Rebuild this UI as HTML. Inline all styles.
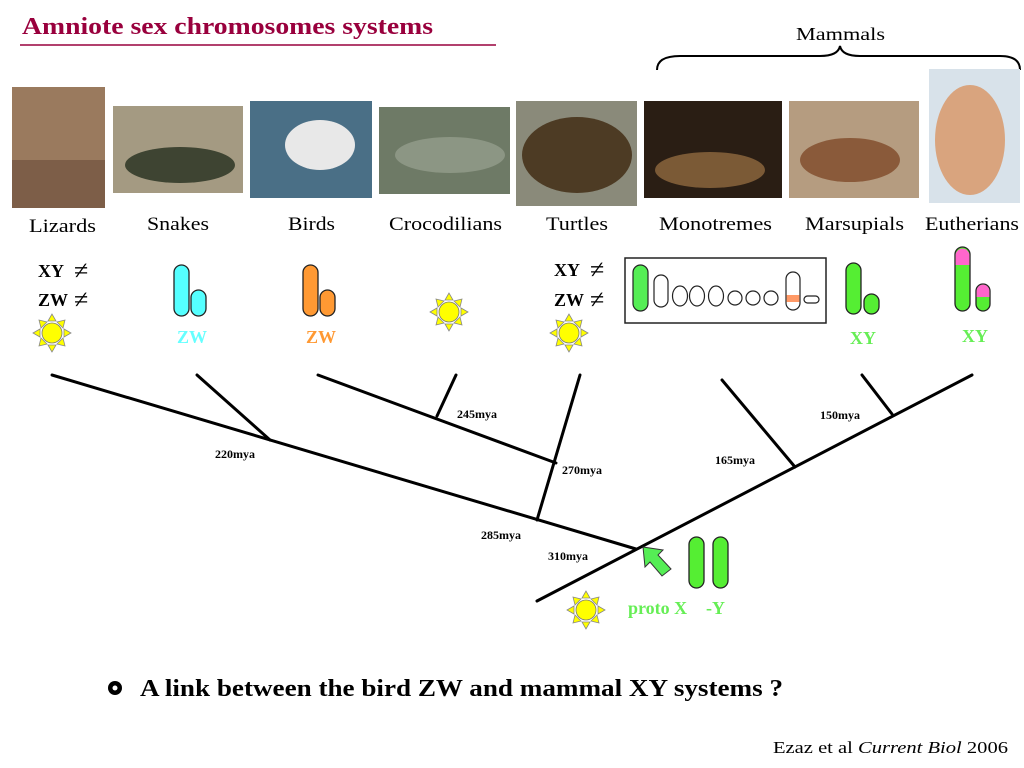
<!DOCTYPE html>
<html><head><meta charset="utf-8"><style>
body{margin:0;background:#fff;}
svg{display:block;font-family:"Liberation Serif",serif;}
</style></head><body>
<svg width="1024" height="768" viewBox="0 0 1024 768" xmlns="http://www.w3.org/2000/svg">
<defs>
<g id="sun">
<polygon points="0,-19 -4,-12 4,-12" fill="#ff0" stroke="#888" stroke-width="0.8"/>
<polygon points="0,19 -4,12 4,12" fill="#ff0" stroke="#888" stroke-width="0.8"/>
<polygon points="-19,0 -12,-4 -12,4" fill="#ff0" stroke="#888" stroke-width="0.8"/>
<polygon points="19,0 12,-4 12,4" fill="#ff0" stroke="#888" stroke-width="0.8"/>
<polygon points="-13,-13 -11,-5 -5,-11" fill="#ff0" stroke="#888" stroke-width="0.8"/>
<polygon points="13,-13 11,-5 5,-11" fill="#ff0" stroke="#888" stroke-width="0.8"/>
<polygon points="-13,13 -11,5 -5,11" fill="#ff0" stroke="#888" stroke-width="0.8"/>
<polygon points="13,13 11,5 5,11" fill="#ff0" stroke="#888" stroke-width="0.8"/>
<circle r="10" fill="#ff0" stroke="#777" stroke-width="0.8"/>
</g>
</defs>
<text x="22" y="34" font-size="24" font-weight="bold" fill="#99003d" textLength="411" lengthAdjust="spacingAndGlyphs">Amniote sex chromosomes systems</text>
<line x1="20" y1="45" x2="496" y2="45" stroke="#99003d" stroke-width="1.5"/>
<text x="796" y="40" font-size="18" textLength="89" lengthAdjust="spacingAndGlyphs">Mammals</text>
<path d="M657,70 Q657,56 680,56 L820,56 Q838,56 840,46 Q842,56 860,56 L1000,56 Q1020,56 1020,70" fill="none" stroke="#000" stroke-width="2"/>

<!-- photos -->
<rect x="12" y="87" width="93" height="121" fill="#9a7a5e"/>
<rect x="12" y="160" width="93" height="48" fill="#7d5e48"/>
<rect x="113" y="106" width="130" height="87" fill="#a49a82"/>
<ellipse cx="180" cy="165" rx="55" ry="18" fill="#3e4432"/>
<rect x="250" y="101" width="122" height="97" fill="#4a6f86"/>
<ellipse cx="320" cy="145" rx="35" ry="25" fill="#e8e8e8"/>
<rect x="379" y="107" width="131" height="87" fill="#6e7a66"/>
<ellipse cx="450" cy="155" rx="55" ry="18" fill="#8c9684"/>
<rect x="516" y="101" width="121" height="105" fill="#8a8a7a"/>
<ellipse cx="577" cy="155" rx="55" ry="38" fill="#4d3b24"/>
<rect x="644" y="101" width="138" height="97" fill="#2a1e14"/>
<ellipse cx="710" cy="170" rx="55" ry="18" fill="#7b5a36"/>
<rect x="789" y="101" width="130" height="97" fill="#b59c80"/>
<ellipse cx="850" cy="160" rx="50" ry="22" fill="#8a5a3a"/>
<rect x="929" y="69" width="91" height="134" fill="#d8e2ea"/>
<ellipse cx="970" cy="140" rx="35" ry="55" fill="#d9a47e"/>

<g font-size="19" lengthAdjust="spacingAndGlyphs">
<text x="29" y="232" textLength="67" lengthAdjust="spacingAndGlyphs">Lizards</text>
<text x="147" y="230" textLength="62" lengthAdjust="spacingAndGlyphs">Snakes</text>
<text x="288" y="230" textLength="47" lengthAdjust="spacingAndGlyphs">Birds</text>
<text x="389" y="230" textLength="113" lengthAdjust="spacingAndGlyphs">Crocodilians</text>
<text x="546" y="230" textLength="62" lengthAdjust="spacingAndGlyphs">Turtles</text>
<text x="659" y="230" textLength="113" lengthAdjust="spacingAndGlyphs">Monotremes</text>
<text x="805" y="230" textLength="99" lengthAdjust="spacingAndGlyphs">Marsupials</text>
<text x="925" y="230" textLength="94" lengthAdjust="spacingAndGlyphs">Eutherians</text>
</g>

<g font-size="18" font-weight="bold">
<text x="38" y="277">XY</text><text x="74" y="279" font-size="26" font-weight="normal">≠</text>
<text x="38" y="306">ZW</text><text x="74" y="308" font-size="26" font-weight="normal">≠</text>
<text x="554" y="276">XY</text><text x="590" y="278" font-size="26" font-weight="normal">≠</text>
<text x="554" y="306">ZW</text><text x="590" y="308" font-size="26" font-weight="normal">≠</text>
</g>
<use href="#sun" x="52" y="333"/>
<use href="#sun" x="449" y="312"/>
<use href="#sun" x="569" y="333"/>
<use href="#sun" x="586" y="610"/>

<!-- snakes / birds -->
<rect x="174" y="265" width="15" height="51" rx="7.5" fill="#5ff" stroke="#222" stroke-width="1.3"/>
<rect x="191" y="290" width="15" height="26" rx="7.5" fill="#5ff" stroke="#222" stroke-width="1.3"/>
<rect x="303" y="265" width="15" height="51" rx="7.5" fill="#f93" stroke="#222" stroke-width="1.3"/>
<rect x="320" y="290" width="15" height="26" rx="7.5" fill="#f93" stroke="#222" stroke-width="1.3"/>
<text x="177" y="343" font-size="18" font-weight="bold" fill="#6ff">ZW</text>
<text x="306" y="343" font-size="18" font-weight="bold" fill="#f93">ZW</text>

<!-- monotreme box -->
<rect x="625" y="258" width="201" height="65" fill="#fff" stroke="#222" stroke-width="1.5"/>
<g stroke="#222" stroke-width="1.2" fill="#fff">
<rect x="633" y="265" width="15" height="46" rx="7.5" fill="#5e5"/>
<rect x="654" y="275" width="14" height="32" rx="7"/>
<ellipse cx="680" cy="296" rx="7.5" ry="10"/>
<ellipse cx="697" cy="296" rx="7.5" ry="10"/>
<ellipse cx="716" cy="296" rx="7.5" ry="10"/>
<ellipse cx="735" cy="298" rx="7" ry="7"/>
<ellipse cx="753" cy="298" rx="7" ry="7"/>
<ellipse cx="771" cy="298" rx="7" ry="7"/>
<rect x="786" y="272" width="14" height="38" rx="7"/>
<rect x="804" y="296" width="15" height="7" rx="3.5"/>
</g>
<rect x="786.6" y="295" width="12.8" height="7" fill="#f96"/>

<!-- marsupials / eutherians -->
<rect x="846" y="263" width="15" height="51" rx="7.5" fill="#5e3" stroke="#222" stroke-width="1.3"/>
<rect x="864" y="294" width="15" height="20" rx="7.5" fill="#5e3" stroke="#222" stroke-width="1.3"/>
<text x="850" y="344" font-size="18" font-weight="bold" fill="#6e5">XY</text>
<rect x="955" y="247" width="15" height="64" rx="7.5" fill="#5e3" stroke="#222" stroke-width="1.3"/>
<path d="M955.6,265 V254.5 A7,7 0 0 1 969.4,254.5 V265 Z" fill="#f6c"/>
<rect x="976" y="284" width="14" height="27" rx="7" fill="#5e3" stroke="#222" stroke-width="1.3"/>
<path d="M976.6,297 V291 A6.4,6.4 0 0 1 989.4,291 V297 Z" fill="#f6c"/>
<text x="962" y="342" font-size="18" font-weight="bold" fill="#6e5">XY</text>

<!-- tree -->
<g stroke="#000" stroke-width="3" fill="none" stroke-linecap="round">
<line x1="52" y1="375" x2="636" y2="549"/>
<line x1="197" y1="375" x2="270" y2="440"/>
<line x1="318" y1="375" x2="556" y2="463"/>
<line x1="456" y1="375" x2="437" y2="416"/>
<line x1="580" y1="375" x2="537" y2="520"/>
<line x1="537" y1="601" x2="972" y2="375"/>
<line x1="722" y1="380" x2="795" y2="467"/>
<line x1="862" y1="375" x2="892" y2="414"/>
</g>
<g font-size="12" font-weight="bold">
<text x="215" y="458">220mya</text>
<text x="457" y="418">245mya</text>
<text x="562" y="474">270mya</text>
<text x="481" y="539">285mya</text>
<text x="548" y="560">310mya</text>
<text x="715" y="464">165mya</text>
<text x="820" y="419">150mya</text>
</g>

<!-- arrow -->
<polygon points="643,547 663,550 658,555 671,569 662,576 650,562 645,567" fill="#5e5" stroke="#333" stroke-width="1"/>
<rect x="689" y="537" width="15" height="51" rx="7.5" fill="#5e3" stroke="#222" stroke-width="1.3"/>
<rect x="713" y="537" width="15" height="51" rx="7.5" fill="#5e3" stroke="#222" stroke-width="1.3"/>
<text x="628" y="614" font-size="18" font-weight="bold" fill="#6e5">proto X</text>
<text x="706" y="614" font-size="18" font-weight="bold" fill="#6e5">-Y</text>

<circle cx="115" cy="688" r="7" fill="#000"/>
<circle cx="115" cy="688" r="2.5" fill="#fff"/>
<text x="140" y="696" font-size="24" font-weight="bold" textLength="643" lengthAdjust="spacingAndGlyphs">A link between the bird ZW and mammal XY systems ?</text>
<text x="773" y="753" font-size="17" textLength="235" lengthAdjust="spacingAndGlyphs">Ezaz et al <tspan font-style="italic">Current Biol</tspan> 2006</text>
</svg>
</body></html>
